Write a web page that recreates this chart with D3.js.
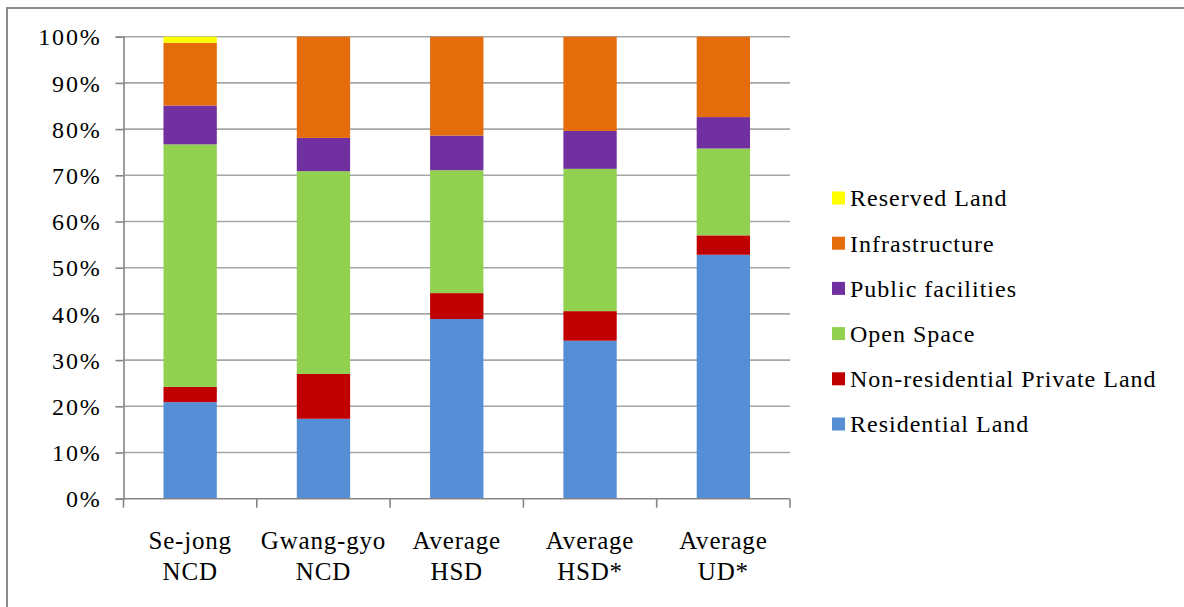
<!DOCTYPE html>
<html>
<head>
<meta charset="utf-8">
<script src="https://cdn.jsdelivr.net/npm/d3@7"></script>
<style>
  html, body { margin: 0; padding: 0; background: #fff; }
  svg { display: block; }
</style>
</head>
<body>
<svg id="chart" width="1184" height="607"></svg>
<script>
// Land-use composition by development type (share of total area)
const categories = [
  ["Se-jong", "NCD"],
  ["Gwang-gyo", "NCD"],
  ["Average", "HSD"],
  ["Average", "HSD*"],
  ["Average", "UD*"]
];
const residentialLand = [0.209, 0.173, 0.389, 0.342, 0.528];
const nonResidentialPrivate = [0.033, 0.097, 0.056, 0.064, 0.042];
const openSpace = [0.525, 0.439, 0.266, 0.308, 0.188];
const publicFacilities = [0.084, 0.072, 0.075, 0.082, 0.068];
const infrastructure = [0.136, 0.219, 0.214, 0.204, 0.174];
const reservedLand = [0.013, 0, 0, 0, 0];

const seriesNames = ["Residential Land", "Non-residential Private Land", "Open Space",
  "Public facilities", "Infrastructure", "Reserved Land"];
const seriesValues = [residentialLand, nonResidentialPrivate, openSpace,
  publicFacilities, infrastructure, reservedLand];
const seriesColors = ["#558ed5", "#c00000", "#92d050", "#7030a0", "#e46c0a", "#ffff00"];
const yTicks = [0, 0.1, 0.2, 0.3, 0.4, 0.5, 0.6, 0.7, 0.8, 0.9, 1.0];

const FONT = "'Liberation Serif', 'Times New Roman', Tinos, 'DejaVu Serif', serif";

const svg = d3.select("#chart");

// outer chart frame
svg.append("rect")
  .attr("x", 7).attr("y", 8)
  .attr("width", 1200).attr("height", 620)
  .attr("fill", "none").attr("stroke", "#8c8c8c").attr("stroke-width", 2);

const plot = { left: 123.5, right: 790, top: 36.7, bottom: 498.7 };

const labels = categories.map(c => c.join(" "));
const x = d3.scaleBand().domain(labels)
  .range([plot.left, plot.right])
  .paddingInner(0.6).paddingOuter(0.3);
const y = d3.scaleLinear().domain([0, 1]).range([plot.bottom, plot.top]);

// table of rows for the stack layout
const rows = labels.map((lab, i) => {
  const r = { label: lab };
  seriesNames.forEach((s, j) => { r[s] = seriesValues[j][i]; });
  return r;
});
const stacked = d3.stack().keys(seriesNames)(rows);

// horizontal gridlines
svg.append("g").selectAll("line")
  .data(yTicks.filter(t => t > 0))
  .join("line")
  .attr("x1", plot.left).attr("x2", plot.right)
  .attr("y1", d => y(d)).attr("y2", d => y(d))
  .attr("stroke", "#a6a6a6").attr("stroke-width", 1.6);

// stacked bars
svg.append("g").selectAll("g")
  .data(stacked)
  .join("g")
  .attr("fill", (d, i) => seriesColors[i])
  .selectAll("rect")
  .data(d => d)
  .join("rect")
  .attr("x", d => x(d.data.label))
  .attr("width", x.bandwidth())
  .attr("y", d => y(d[1]))
  .attr("height", d => Math.max(0, y(d[0]) - y(d[1])));

// y axis
const yAxis = d3.axisLeft(y)
  .tickValues(yTicks)
  .tickFormat(d3.format(".0%"))
  .tickSize(8).tickPadding(14);
const yg = svg.append("g").attr("transform", `translate(${plot.left},0)`).call(yAxis)
  .attr("font-family", FONT).attr("font-size", 24);
yg.select(".domain").attr("stroke", "#868686").attr("stroke-width", 1.6);
yg.selectAll(".tick line").attr("stroke", "#868686").attr("stroke-width", 1.6);
yg.selectAll(".tick text").attr("dy", "0.34em").attr("fill", "#000")
  .attr("letter-spacing", 1.8);

// x axis line and category boundary ticks
const step = x.step();
const gap = (step - x.bandwidth()) / 2;
const bounds = labels.map(l => x(l) - gap).concat([x(labels[labels.length - 1]) + x.bandwidth() + gap]);
const xg = svg.append("g").attr("font-family", FONT).attr("font-size", 25);
xg.append("line")
  .attr("x1", plot.left).attr("x2", plot.right)
  .attr("y1", plot.bottom).attr("y2", plot.bottom)
  .attr("stroke", "#868686").attr("stroke-width", 1.6);
xg.selectAll("line.tk").data(bounds).join("line").attr("class", "tk")
  .attr("x1", d => d).attr("x2", d => d)
  .attr("y1", plot.bottom).attr("y2", plot.bottom + 9)
  .attr("stroke", "#868686").attr("stroke-width", 1.6);

// two-line category labels
const cat = xg.selectAll("text.cat").data(categories).join("text").attr("class", "cat")
  .attr("text-anchor", "middle").attr("fill", "#000").attr("letter-spacing", 0.8);
cat.each(function (d, i) {
  const cx = x(labels[i]) + x.bandwidth() / 2;
  d3.select(this).selectAll("tspan").data(d).join("tspan")
    .attr("x", cx)
    .attr("y", (t, k) => 549 + k * 31)
    .text(t => t);
});

// legend, top entry is the uppermost stack segment
const legendItems = seriesNames.map((n, i) => ({ name: n, color: seriesColors[i] })).reverse();
const lg = svg.append("g").attr("font-family", FONT).attr("font-size", 24)
  .selectAll("g").data(legendItems).join("g")
  .attr("transform", (d, i) => `translate(832,${198 + i * 45.2})`);
lg.append("rect")
  .attr("x", 0).attr("y", -6.5).attr("width", 13).attr("height", 13)
  .attr("fill", d => d.color);
lg.append("text")
  .attr("x", 18).attr("dy", "0.35em").attr("fill", "#000").attr("letter-spacing", 1)
  .text(d => d.name);
</script>
</body>
</html>
